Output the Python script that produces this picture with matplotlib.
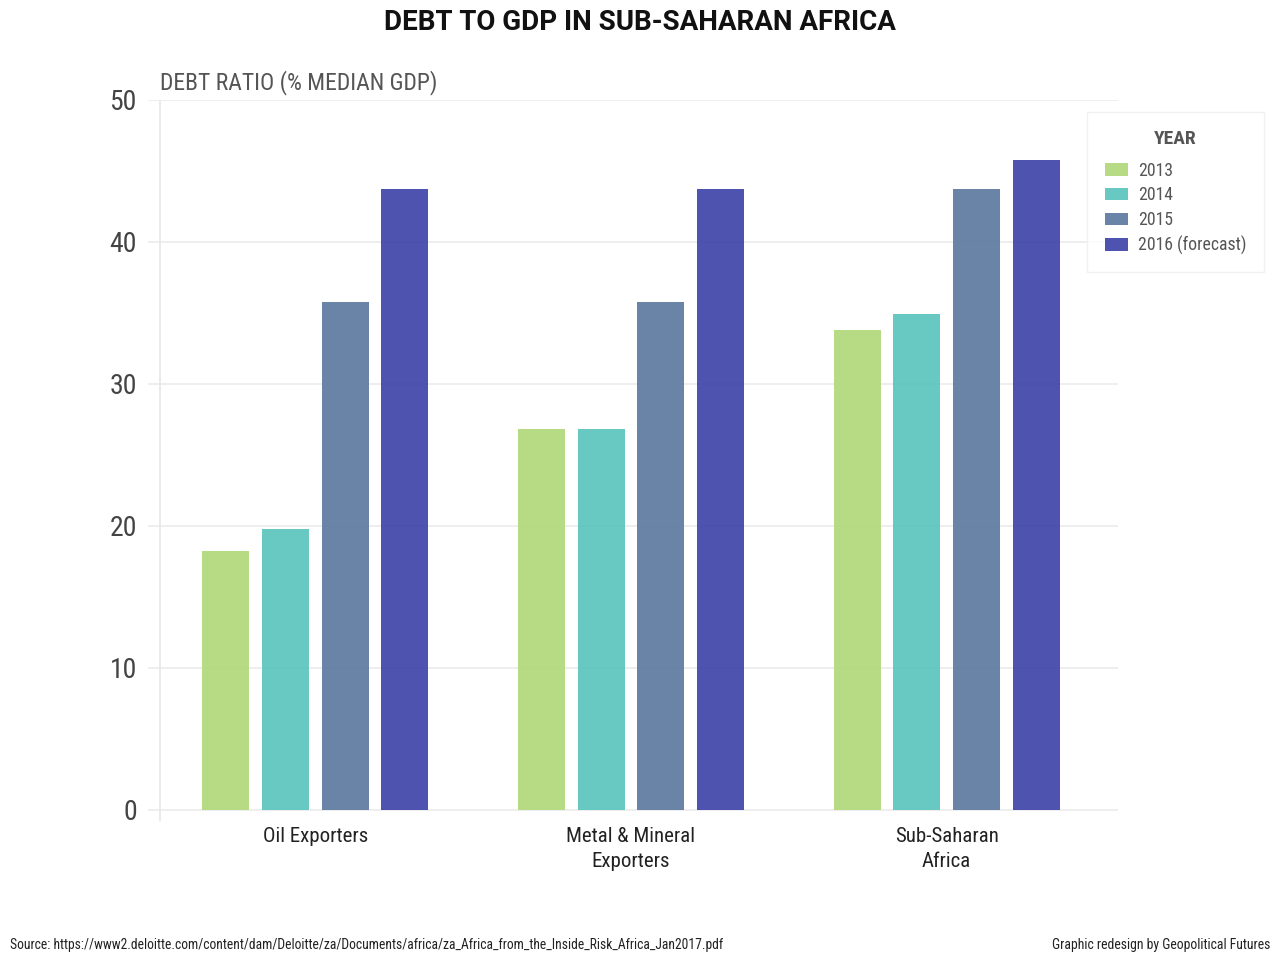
import numpy as np
import matplotlib
matplotlib.use('Agg')
import matplotlib.pyplot as plt
from matplotlib import font_manager

# fonte condensada se houver
available = {f.name for f in font_manager.fontManager.ttflist}
font = 'Roboto'
for cand in ['Roboto Condensed', 'Liberation Sans Narrow', 'Roboto']:
    if cand in available:
        font = cand
        break
plt.rcParams['font.family'] = [font, 'DejaVu Sans']

# dados
categories = ['Oil Exporters', 'Metal & Mineral\nExporters', 'Sub-Saharan\nAfrica']
years = ['2013', '2014', '2015', '2016 (forecast)']
v2013 = [18.2, 26.8, 33.8]
v2014 = [19.8, 26.8, 34.9]
v2015 = [35.8, 35.8, 43.7]
v2016 = [43.7, 43.7, 45.8]
series = [v2013, v2014, v2015, v2016]
colors = ['#b0d878', '#56c3bb', '#5a779f', '#3940a6']

fig = plt.figure(figsize=(12.8, 9.6), dpi=100)
ax = fig.add_axes([148 / 1280, 1 - 821 / 960, (1118 - 148) / 1280, (821 - 100) / 960])

x = np.arange(len(categories))
step = 0.189
width = 0.149
for i, (vals, c, lab) in enumerate(zip(series, colors, years)):
    ax.bar(x + (i - 1.5) * step, vals, width, color=c, alpha=0.9, label=lab,
           edgecolor='none', zorder=2)

ax.set_xlim(-0.530, 2.543)
ax.set_ylim(-0.8, 50)
ax.set_yticks([0, 10, 20, 30, 40, 50])
ax.yaxis.grid(True, color='#ebebeb', linewidth=1.2, zorder=1)
ax.set_axisbelow(True)
for s in ax.spines.values():
    s.set_visible(False)
# linha do eixo y
ax.axvline(-0.492, ymin=0, ymax=1, color='#e6e6e6', linewidth=1.2, zorder=1)

ax.tick_params(axis='y', length=0, labelsize=20, labelcolor='#444444', pad=8)
ax.tick_params(axis='x', length=0, labelsize=15, labelcolor='#222222', pad=4)
ax.set_xticks(x)
ax.set_xticklabels(categories, linespacing=1.45)

fig.text(0.5, 1 - 22 / 960, 'DEBT TO GDP IN SUB-SAHARAN AFRICA', ha='center', va='center',
         fontsize=20, fontweight='bold', color='#111111', family=['Roboto', 'DejaVu Sans'])
fig.text(160 / 1280, 1 - 83 / 960, 'DEBT RATIO (% MEDIAN GDP)', ha='left', va='center',
         fontsize=17, color='#555555')

leg = fig.legend(loc='upper left', bbox_to_anchor=(1087 / 1280, 1 - 112 / 960),
                 title='YEAR', fontsize=12.7, frameon=True, fancybox=False,
                 edgecolor='#eeeeee', handlelength=1.35, handleheight=0.7,
                 borderpad=1.0, labelspacing=0.38, handletextpad=0.55,
                 borderaxespad=0)
leg.get_title().set_fontweight('bold')
leg.get_title().set_color('#555555')
leg.get_title().set_fontsize(14)
leg._legend_box.sep = 10
for t in leg.get_texts():
    t.set_color('#555555')

fig.text(10 / 1280, 1 - 945 / 960,
         'Source: https://www2.deloitte.com/content/dam/Deloitte/za/Documents/africa/za_Africa_from_the_Inside_Risk_Africa_Jan2017.pdf',
         ha='left', va='center', fontsize=9.8, color='#222222')
fig.text(1270 / 1280, 1 - 945 / 960, 'Graphic redesign by Geopolitical Futures',
         ha='right', va='center', fontsize=9.9, color='#222222')

fig.savefig('out.png', dpi=100, facecolor='white')
